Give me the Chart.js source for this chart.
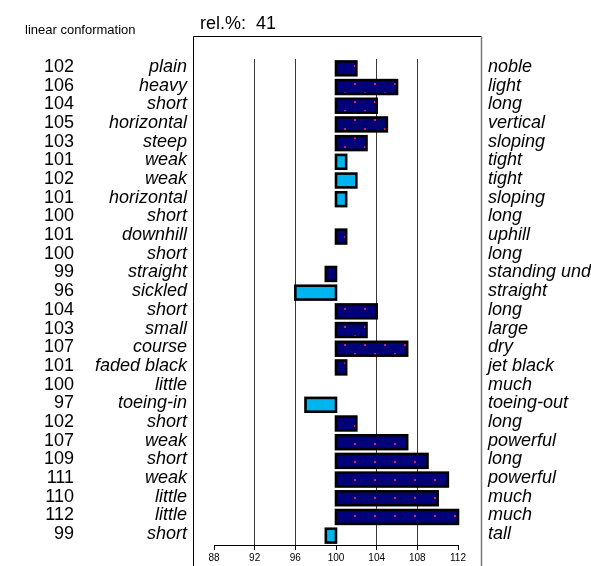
<!DOCTYPE html>
<html>
<head>
<meta charset="utf-8">
<script src="https://cdn.jsdelivr.net/npm/chart.js@4.4.0/dist/chart.umd.min.js"></script>
<style>
  html, body { margin: 0; padding: 0; background: #fff; }
  #chart { display: block; }
</style>
</head>
<body>
<canvas id="chart" width="591" height="566"></canvas>
<script>
// relative breeding values, one row per linear trait
const values = [102, 106, 104, 105, 103, 101, 102, 101, 100, 101, 100, 99, 96, 104, 103, 107, 101, 100, 97, 102, 107, 109, 111, 110, 112, 99]
const lowLabels = ['plain', 'heavy', 'short', 'horizontal', 'steep', 'weak', 'weak', 'horizontal', 'short', 'downhill', 'short', 'straight', 'sickled',
  'short', 'small', 'course', 'faded black', 'little', 'toeing-in', 'short', 'weak', 'short', 'weak', 'little', 'little', 'short']
const highLabels = ['noble', 'light', 'long', 'vertical', 'sloping', 'tight', 'tight', 'sloping', 'long', 'uphill', 'long', 'standing under', 'straight',
  'long', 'large', 'dry', 'jet black', 'much', 'toeing-out', 'long', 'powerful', 'long', 'powerful', 'much', 'much', 'tall']
const shades = ['dark', 'dark', 'dark', 'dark', 'dark', 'light', 'light', 'light', 'dark', 'dark', 'dark', 'dark', 'light',
  'dark', 'dark', 'dark', 'dark', 'dark', 'light', 'dark', 'dark', 'dark', 'dark', 'dark', 'dark', 'light']
const baseValue = 100
const xMin = 88
const xMax = 112
const xStep = 4
const heading = 'linear conformation'
const relText = 'rel.%:  41'

const FONT = '"Liberation Sans", Arial, sans-serif'

// navy fill with little red dots, like the office chart pattern
function makeNavy(ctx){
  const c = document.createElement('canvas')
  c.width = 20
  c.height = 18
  const g = c.getContext('2d')
  g.fillStyle = '#000080'
  g.fillRect(0, 0, 20, 18)
  g.fillStyle = '#00006e'
  for (let y = 0; y < 18; y += 2) {
    for (let x = (y / 2) % 2; x < 20; x += 2) g.fillRect(x, y, 1, 1)
  }
  g.fillStyle = '#c02068'
  g.fillRect(4, 2, 2, 2)
  g.fillStyle = '#dc2450'
  g.fillRect(14, 11, 2, 2)
  return ctx.createPattern(c, 'repeat')
}

const framePlugin = {
  id: 'frame',
  beforeDraw(chart){
    const ctx = chart.ctx
    const a = chart.chartArea
    const left = a.left - 20.5
    const right = a.right + 23.5
    const top = a.top - 22.5
    ctx.save()
    ctx.lineWidth = 1
    ctx.strokeStyle = '#000'
    ctx.beginPath()
    ctx.moveTo(left, chart.height)
    ctx.lineTo(left, top)
    ctx.lineTo(right, top)
    ctx.stroke()
    ctx.strokeStyle = '#7a7a7a'
    ctx.lineWidth = 1.5
    ctx.beginPath()
    ctx.moveTo(right, top)
    ctx.lineTo(right, chart.height)
    ctx.stroke()
    ctx.restore()
  }
}

// black outline centred on the bar edge, drawn over the fill
const outlinePlugin = {
  id: 'barOutline',
  afterDatasetsDraw(chart){
    const ctx = chart.ctx
    const meta = chart.getDatasetMeta(0)
    ctx.save()
    ctx.strokeStyle = '#000'
    ctx.lineWidth = 2.6
    meta.data.forEach((bar, i) => {
      if (values[i] === baseValue) return
      const p = bar.getProps(['x', 'y', 'base', 'height'], true)
      ctx.strokeRect(Math.min(p.x, p.base), p.y - p.height / 2, Math.abs(p.x - p.base), p.height)
    })
    ctx.restore()
  }
}

const textPlugin = {
  id: 'rowText',
  afterDraw(chart){
    const ctx = chart.ctx
    const a = chart.chartArea
    const y = chart.scales.y
    ctx.save()
    ctx.fillStyle = '#000'
    ctx.textBaseline = 'alphabetic'

    ctx.font = '13px ' + FONT
    ctx.textAlign = 'left'
    ctx.fillText(heading, 25, 34)
    ctx.font = '18px ' + FONT
    ctx.fillText(relText, a.left - 14, 29)

    values.forEach((v, i) => {
      const py = y.getPixelForValue(i) + 3.5
      ctx.font = '18px ' + FONT
      ctx.textAlign = 'right'
      ctx.fillText(String(v), 74, py)
      ctx.font = 'italic 18px ' + FONT
      ctx.fillText(lowLabels[i], a.left - 27, py)
      ctx.textAlign = 'left'
      ctx.fillText(highLabels[i], a.right + 30, py)
    })
    ctx.restore()
  }
}

const canvas = document.getElementById('chart')
const navy = makeNavy(canvas.getContext('2d'))

new Chart(canvas, {
  type: 'bar',
  data: {
    labels: lowLabels,
    datasets: [{
      data: values.map(v => [baseValue, v]),
      backgroundColor: c => shades[c.dataIndex] === 'light' ? '#00b4f0' : navy,
      borderWidth: 0,
      barPercentage: 0.74,
      categoryPercentage: 1,
    }],
  },
  options: {
    indexAxis: 'y',
    responsive: false,
    animation: false,
    devicePixelRatio: 1,
    layout: { padding: { left: 214, right: 133, top: 59, bottom: 0 } },
    plugins: {
      legend: { display: false },
      tooltip: { enabled: false },
    },
    scales: {
      x: {
        min: xMin,
        max: xMax,
        ticks: { stepSize: xStep, color: '#000', padding: 2, font: { family: FONT, size: 10 } },
        grid: {
          color: c => (c.tick && c.tick.value !== baseValue && c.tick.value !== xMin && c.tick.value !== xMax) ? '#3a3a3a' : 'rgba(0,0,0,0)',
          tickColor: '#000',
          tickLength: 5,
          lineWidth: 1,
        },
        border: { display: true, color: '#000', width: 1 },
      },
      y: { display: false },
    },
  },
  plugins: [framePlugin, outlinePlugin, textPlugin],
})
</script>
</body>
</html>
